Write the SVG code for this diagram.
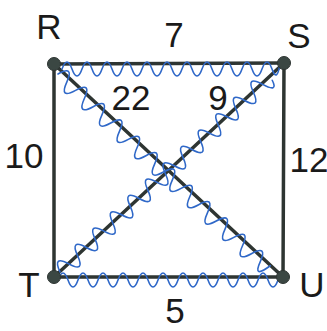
<svg xmlns="http://www.w3.org/2000/svg" width="327" height="331" viewBox="0 0 327 331">
<defs>
<style>
.edge{stroke:#2e3532;stroke-width:3.5;stroke-linecap:round;fill:none}
.wave{stroke:#2f68c8;stroke-width:1.6;fill:none;stroke-linecap:round;stroke-linejoin:round}
.node{fill:#3b4743;stroke:#2e3532;stroke-width:1}
.lbl{font-family:"Liberation Sans",Arial,sans-serif;font-size:35px;fill:#1a1a1a;text-anchor:middle}
</style>
</defs>
<rect width="327" height="331" fill="#ffffff"/>
<g id="connectors">
<line class="edge" x1="54" y1="64" x2="284" y2="63"/>
<line class="edge" x1="54" y1="64" x2="54" y2="277"/>
<line class="edge" x1="284" y1="63" x2="283" y2="277"/>
<line class="edge" x1="54" y1="277" x2="283" y2="277"/>
<line class="edge" x1="54" y1="64" x2="283" y2="277"/>
<line class="edge" x1="284" y1="63" x2="54" y2="277"/>
</g>
<g id="highlights">
<path class="wave" transform="translate(62,69)" d="M0 0 q5 -14 10 0 t10 0 t10 0 t10 0 t10 0 t10 0 t10 0 t10 0 t10 0 t10 0 t10 0 t10 0 t10 0 t10 0 t10 0 t10 0 t10 0 t10 0 t10 0 t10 0 t10 0 t8 -5"/>
<path class="wave" transform="translate(58,280)" d="M0 0 q5 -14 10 0 t10 0 t10 0 t10 0 t10 0 t10 0 t10 0 t10 0 t10 0 t10 0 t10 0 t10 0 t10 0 t10 0 t10 0 t10 0 t10 0 t10 0 t10 0 t10 0 t10 0 t10 0 t6 -4"/>
<path class="wave" transform="translate(58,74) rotate(42.9)" d="M0 0 q6 -18 12 0 t12 0 t12 0 t12 0 t12 0 t12 0 t12 0 t12 0 t12 0 t12 0 t12 0 t12 0 t12 0 t12 0 t12 0 t12 0 t12 0 t12 0 t12 0 t12 0 t12 0 t12 0 t12 0 t10 -4"/>
<path class="wave" transform="translate(60,272) rotate(-42.9)" d="M0 0 q6 -18 12 0 t12 0 t12 0 t12 0 t12 0 t12 0 t12 0 t12 0 t12 0 t12 0 t12 0 t12 0 t12 0 t12 0 t12 0 t12 0 t12 0 t12 0 t12 0 t12 0 t12 0 t12 0 t12 0 t10 4"/>
</g>
<g id="node-R"><circle class="node" cx="54" cy="64" r="6.5"/><text class="lbl" x="49" y="39">R</text></g>
<g id="node-S"><circle class="node" cx="284" cy="63" r="6.5"/><text class="lbl" x="299" y="48">S</text></g>
<g id="node-T"><circle class="node" cx="54" cy="277" r="6.5"/><text class="lbl" x="29" y="297">T</text></g>
<g id="node-U"><circle class="node" cx="283" cy="277" r="6.5"/><text class="lbl" x="312" y="297">U</text></g>
<g id="labels">
<text class="lbl" x="174" y="47">7</text>
<text class="lbl" x="131" y="110">22</text>
<text class="lbl" x="218" y="110">9</text>
<text class="lbl" x="24" y="168">10</text>
<text class="lbl" x="309" y="172">12</text>
<text class="lbl" x="175" y="323">5</text>
</g>
</svg>
